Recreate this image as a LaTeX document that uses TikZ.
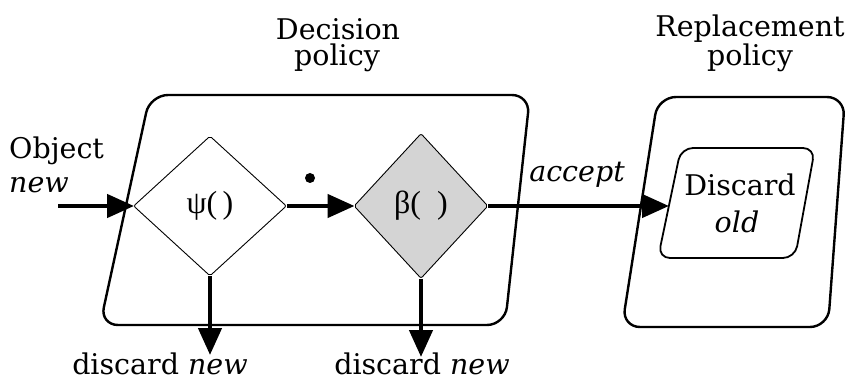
\documentclass[tikz,border=0pt]{standalone}
\usepackage{fontspec}
\setmainfont{DejaVu Serif}
\newfontfamily\grk{Liberation Serif}
\usetikzlibrary{arrows.meta,shapes.geometric}
\begin{document}
\begin{tikzpicture}[x=1pt,y=-1pt,
  box/.style={line width=2.4pt, rounded corners=18pt},
  inbox/.style={line width=1.8pt, rounded corners=12pt},
  dia/.style={draw, line width=0.9pt, diamond, inner sep=0pt, rounded corners=2pt,
    font=\grk\fontsize{32}{34}\selectfont},
  txt/.style={inner sep=0pt, font=\fontsize{28.5}{32}\selectfont},
  arr/.style={line width=4.5pt, -{Triangle[length=27pt,width=23pt]}, shorten >=-1pt}
]
\useasboundingbox (0,0) rectangle (868,390);
% containers
\draw[box] (150,95) -- (530,95) -- (505,325) -- (100,325) -- cycle;
\draw[box] (658,97) -- (845,97) -- (828,327) -- (622,327) -- cycle;
\draw[inbox] (681,148) -- (815,148) -- (795,258) -- (658,258) -- cycle;
% diamonds
\node[dia, fill=white, minimum width=153pt, minimum height=140pt] (psi) at (210,206) {ψ(\,)};
\node[dia, fill=black!17, minimum width=134pt, minimum height=145pt] (beta) at (421,206) {β(\hspace{0.5em})};
% coordinates
\coordinate (src) at (58,206);
\coordinate (inl) at (668,206);
\coordinate (d1) at (210,354);
\coordinate (d2) at (421,356);
% arrows
\draw[arr] (src) -- (psi.west);
\draw[arr] (psi.east) -- (beta.west);
\draw[arr] (beta.east) -- (inl);
\draw[arr] (psi.south) -- (d1);
\draw[arr] (beta.south) -- (d2);
\node[circle, fill, inner sep=0pt, minimum size=10pt] (dot) at (310,178) {};
% texts
\node[txt, anchor=base] (dec1) at (338,40) {Decision};
\node[txt, anchor=base] (dec2) at (337,66) {policy};
\node[txt, anchor=base] (rep1) at (750,37) {Replacement};
\node[txt, anchor=base] (rep2) at (750,66) {policy};
\node[txt, anchor=base west] (obj) at (9,159) {Object};
\node[txt, anchor=base west] (new) at (9,193) {\itshape new};
\node[txt, anchor=base] (acc) at (577,182) {\itshape accept};
\node[txt, anchor=base] (dis) at (740,196) {Discard};
\node[txt, anchor=base] (old) at (737,233) {\itshape old};
\node[txt, anchor=base] (dn1) at (160,374) {discard \textit{new}};
\node[txt, anchor=base] (dn2) at (422,374) {discard \textit{new}};
\end{tikzpicture}
\end{document}
